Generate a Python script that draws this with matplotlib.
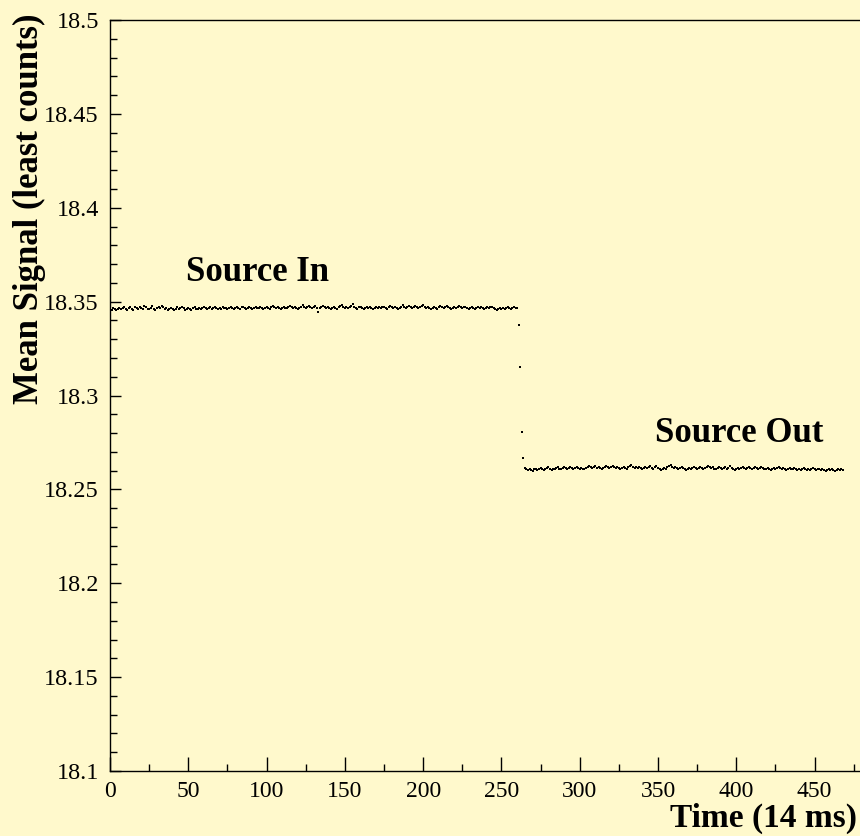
import matplotlib
matplotlib.use("Agg")
import matplotlib.pyplot as plt
from matplotlib.ticker import MultipleLocator, FuncFormatter

# ---- data ----
source_in = [
    18.3462, 18.3458, 18.3465, 18.3460, 18.3456, 18.3463, 18.3468, 18.3459, 18.3464, 18.3470,
    18.3461, 18.3457, 18.3466, 18.3472, 18.3463, 18.3458, 18.3469, 18.3465, 18.3460, 18.3474,
    18.3467, 18.3461, 18.3476, 18.3470, 18.3463, 18.3459, 18.3468, 18.3475, 18.3462, 18.3457,
    18.3466, 18.3471, 18.3464, 18.3478, 18.3469, 18.3460, 18.3465, 18.3458, 18.3462, 18.3467,
    18.3461, 18.3455, 18.3463, 18.3469, 18.3460, 18.3466, 18.3472, 18.3464, 18.3458, 18.3463,
    18.3468, 18.3462, 18.3457, 18.3465, 18.3470, 18.3463, 18.3459, 18.3466, 18.3461, 18.3467,
    18.3473, 18.3466, 18.3460, 18.3464, 18.3469, 18.3462, 18.3466, 18.3471, 18.3465, 18.3460,
    18.3467, 18.3463, 18.3469, 18.3464, 18.3468, 18.3462, 18.3466, 18.3470, 18.3465, 18.3461,
    18.3466, 18.3472, 18.3467, 18.3463, 18.3469, 18.3474, 18.3468, 18.3462, 18.3467, 18.3471,
    18.3465, 18.3460, 18.3466, 18.3470, 18.3464, 18.3468, 18.3473, 18.3467, 18.3462, 18.3468,
    18.3472, 18.3466, 18.3463, 18.3469, 18.3475, 18.3469, 18.3464, 18.3470, 18.3466, 18.3461,
    18.3467, 18.3473, 18.3468, 18.3464, 18.3470, 18.3476, 18.3470, 18.3465, 18.3471, 18.3467,
    18.3462, 18.3468, 18.3474, 18.3481, 18.3472, 18.3466, 18.3471, 18.3477, 18.3469, 18.3464,
    18.3470, 18.3475, 18.3468, 18.3447, 18.3466, 18.3472, 18.3478, 18.3470, 18.3465, 18.3471,
    18.3467, 18.3462, 18.3468, 18.3473, 18.3467, 18.3463, 18.3469, 18.3475, 18.3481, 18.3472,
    18.3466, 18.3471, 18.3465, 18.3469, 18.3475, 18.3487, 18.3474, 18.3468, 18.3463, 18.3469,
    18.3474, 18.3467, 18.3462, 18.3468, 18.3473, 18.3466, 18.3471, 18.3465, 18.3460, 18.3466,
    18.3472, 18.3466, 18.3470, 18.3465, 18.3469, 18.3474, 18.3468, 18.3463, 18.3469, 18.3478,
    18.3471, 18.3466, 18.3472, 18.3467, 18.3462, 18.3468, 18.3474, 18.3480, 18.3472, 18.3467,
    18.3471, 18.3476, 18.3470, 18.3465, 18.3470, 18.3475, 18.3469, 18.3464, 18.3470, 18.3476,
    18.3482, 18.3474, 18.3468, 18.3473, 18.3467, 18.3462, 18.3468, 18.3474, 18.3468, 18.3463,
    18.3469, 18.3475, 18.3470, 18.3465, 18.3471, 18.3477, 18.3470, 18.3465, 18.3460, 18.3466,
    18.3471, 18.3465, 18.3470, 18.3476, 18.3469, 18.3464, 18.3469, 18.3474, 18.3467, 18.3462,
    18.3468, 18.3473, 18.3466, 18.3461, 18.3467, 18.3472, 18.3466, 18.3470, 18.3464, 18.3459,
    18.3465, 18.3470, 18.3464, 18.3469, 18.3474, 18.3467, 18.3462, 18.3457, 18.3463, 18.3468,
    18.3462, 18.3467, 18.3461, 18.3466, 18.3471, 18.3465, 18.3460, 18.3466, 18.3470, 18.3464,
    18.3468,
]
transition = [18.3376, 18.3152, 18.2806, 18.2667]
source_out = [
    18.2614, 18.2608, 18.2604, 18.2610, 18.2601, 18.2597, 18.2606, 18.2611, 18.2603, 18.2609,
    18.2614, 18.2607, 18.2602, 18.2608, 18.2613, 18.2618, 18.2610, 18.2605, 18.2611, 18.2606,
    18.2612, 18.2617, 18.2611, 18.2606, 18.2612, 18.2618, 18.2613, 18.2608, 18.2614, 18.2620,
    18.2614, 18.2609, 18.2615, 18.2620, 18.2614, 18.2610, 18.2616, 18.2611, 18.2606, 18.2612,
    18.2618, 18.2624, 18.2617, 18.2612, 18.2618, 18.2623, 18.2616, 18.2621, 18.2615, 18.2610,
    18.2616, 18.2621, 18.2626, 18.2619, 18.2614, 18.2620, 18.2625, 18.2618, 18.2613, 18.2619,
    18.2614, 18.2609, 18.2615, 18.2621, 18.2615, 18.2610, 18.2617, 18.2623, 18.2629, 18.2620,
    18.2614, 18.2619, 18.2613, 18.2618, 18.2612, 18.2607, 18.2613, 18.2618, 18.2612, 18.2617,
    18.2622, 18.2616, 18.2611, 18.2617, 18.2622, 18.2615, 18.2610, 18.2605, 18.2611, 18.2616,
    18.2611, 18.2617, 18.2622, 18.2628, 18.2620, 18.2614, 18.2619, 18.2613, 18.2608, 18.2614,
    18.2619, 18.2613, 18.2608, 18.2603, 18.2609, 18.2614, 18.2609, 18.2615, 18.2621, 18.2615,
    18.2610, 18.2615, 18.2620, 18.2614, 18.2609, 18.2615, 18.2621, 18.2626, 18.2618, 18.2612,
    18.2617, 18.2611, 18.2606, 18.2612, 18.2618, 18.2613, 18.2607, 18.2612, 18.2617, 18.2611,
    18.2616, 18.2622, 18.2616, 18.2611, 18.2605, 18.2611, 18.2616, 18.2610, 18.2615, 18.2620,
    18.2614, 18.2609, 18.2614, 18.2619, 18.2613, 18.2608, 18.2613, 18.2618, 18.2612, 18.2607,
    18.2612, 18.2618, 18.2612, 18.2606, 18.2611, 18.2616, 18.2610, 18.2605, 18.2610, 18.2615,
    18.2609, 18.2614, 18.2619, 18.2613, 18.2607, 18.2612, 18.2606, 18.2601, 18.2607, 18.2612,
    18.2606, 18.2611, 18.2616, 18.2610, 18.2605, 18.2610, 18.2604, 18.2609, 18.2614, 18.2608,
    18.2603, 18.2608, 18.2602, 18.2607, 18.2612, 18.2606, 18.2601, 18.2606, 18.2611, 18.2605,
    18.2610, 18.2604, 18.2599, 18.2605, 18.2610, 18.2604, 18.2609, 18.2603, 18.2598, 18.2604,
    18.2609, 18.2603, 18.2607, 18.2602,
]
signal = source_in + transition + source_out
time_idx = list(range(len(signal)))

x_label = "Time (14 ms)"
y_label = "Mean Signal (least counts)"
annotations = [("Source In", 94, 18.3655), ("Source Out", 402, 18.2800)]

# ---- figure ----
bg = "#fff9cc"
serif = ["Liberation Serif", "DejaVu Serif"]
fig = plt.figure(figsize=(8.6, 8.36), dpi=100, facecolor=bg)
ax = fig.add_axes([110 / 860, 65 / 836, 1 - 110 / 860, 751 / 836])
ax.set_facecolor(bg)

ax.plot(time_idx, signal, linestyle="none", marker="s", markersize=1.9,
        color="black", markeredgewidth=0)

ax.set_xlim(0, 479)
ax.set_ylim(18.1, 18.5)
ax.spines["right"].set_visible(False)
for s in ("left", "bottom", "top"):
    ax.spines[s].set_linewidth(1.0)

ax.xaxis.set_major_locator(MultipleLocator(50))
ax.xaxis.set_minor_locator(MultipleLocator(25))
ax.yaxis.set_major_locator(MultipleLocator(0.05))
ax.yaxis.set_minor_locator(MultipleLocator(0.01))
ax.yaxis.set_major_formatter(FuncFormatter(lambda v, p: f"{v:g}"))

ax.tick_params(axis="x", which="major", direction="in", length=10, width=1,
               pad=7, labelsize=17, top=False)
ax.tick_params(axis="x", which="minor", direction="in", length=5, width=1, top=False)
ax.tick_params(axis="y", which="major", direction="in", length=8, width=1,
               pad=8, labelsize=17.5, right=False)
ax.tick_params(axis="y", which="minor", direction="in", length=5, width=1, right=False)
for lab in ax.get_xticklabels() + ax.get_yticklabels():
    lab.set_family(serif)

for txt, xv, yv in annotations:
    ax.text(xv, yv, txt, ha="center", va="center", fontsize=25,
            fontweight="bold", family=serif)

fig.text(857 / 860, 1 - 818 / 836, x_label, ha="right", va="center",
         fontsize=24, fontweight="bold", family=serif)
fig.text(29 / 860, 1 - 14 / 836, y_label, ha="center", va="top", rotation=90,
         fontsize=25, fontweight="bold", family=serif)

fig.savefig("out.png", dpi=100, facecolor=bg)
